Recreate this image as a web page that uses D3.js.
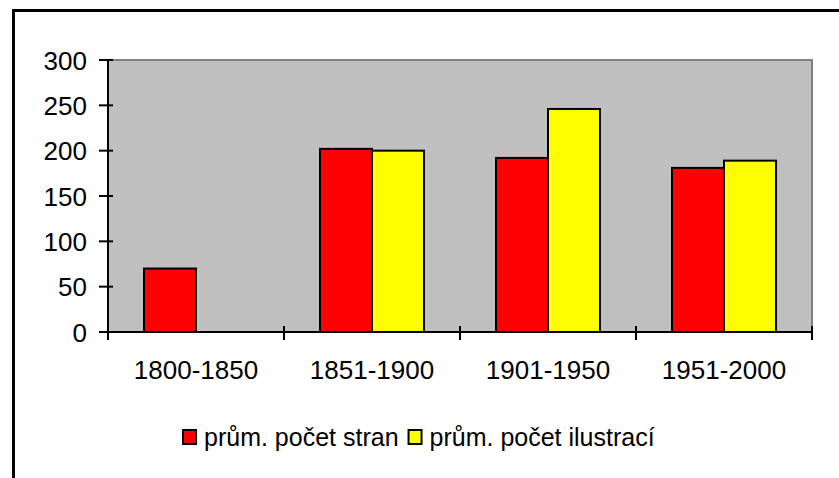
<!DOCTYPE html>
<html><head><meta charset="utf-8">
<script src="https://cdn.jsdelivr.net/npm/d3@7/dist/d3.min.js"></script>
<style>
body{margin:0;background:#fff;}
text{font-family:"Liberation Sans",Arial,sans-serif;fill:#000;}
</style></head>
<body><svg id="c" width="839" height="478"></svg>
<script>
const categories = ["1800-1850","1851-1900","1901-1950","1951-2000"];
const seriesNames = ["prům. počet stran","prům. počet ilustrací"];
const strany = [70, 202, 192, 181];
const ilustrace = [null, 200, 246, 189];
const yTicks = [0,50,100,150,200,250,300];
const colors = ["#ff0000","#ffff00"];

const svg = d3.select("#c");
const L=108, R=812, T=60, B=332;

// outer frame
svg.append("rect").attr("x",13.5).attr("y",10.5).attr("width",900).attr("height",600)
  .attr("fill","none").attr("stroke","#000").attr("stroke-width",3);

const x = d3.scaleBand().domain(categories).range([L,R]).paddingInner(0).paddingOuter(0);
const y = d3.scaleLinear().domain([0,300]).range([B,T]);
const bw = x.bandwidth();
const xs = d3.scaleBand().domain([0,1]).range([bw*36/176, bw*140/176]).padding(0);

// plot area
svg.append("rect").attr("x",L).attr("y",T).attr("width",R-L).attr("height",B-T).attr("fill","#c0c0c0");
svg.append("path").attr("d",`M${L},${T}H${R}V${B}`).attr("fill","none").attr("stroke","#808080").attr("stroke-width",2);

// bars
const series=[strany, ilustrace];
series.forEach((vals,si)=>{
  svg.append("g").selectAll("rect").data(categories.map((c,i)=>({c,v:vals[i]})).filter(d=>d.v!=null))
   .join("rect")
   .attr("x",d=>x(d.c)+xs(si))
   .attr("y",d=>y(d.v))
   .attr("width",xs.bandwidth())
   .attr("height",d=>B-y(d.v))
   .attr("fill",colors[si]).attr("stroke","#000").attr("stroke-width",2);
});

// y axis
const ya = svg.append("g").attr("transform",`translate(${L},0)`)
  .call(d3.axisLeft(y).tickValues(yTicks).tickSize(0).tickPadding(21).tickFormat(d3.format("d")));
ya.select(".domain").remove();
ya.selectAll("text").attr("font-size",26).attr("font-family","Liberation Sans, Arial, sans-serif").attr("dy","0.35em");
svg.append("g").selectAll("line").data(yTicks).join("line")
  .attr("x1",L-9).attr("x2",L+5).attr("y1",d=>y(d)).attr("y2",d=>y(d)).attr("stroke","#000").attr("stroke-width",2);
svg.append("line").attr("x1",L).attr("x2",L).attr("y1",T-1).attr("y2",B+1).attr("stroke","#000").attr("stroke-width",2);

// x axis
const xa = svg.append("g").attr("transform",`translate(0,${B})`)
  .call(d3.axisBottom(x).tickSize(0).tickPadding(29));
xa.select(".domain").remove();
xa.selectAll("text").attr("font-size",26).attr("font-family","Liberation Sans, Arial, sans-serif").attr("dy","0.71em");
const bounds = categories.map(c=>x(c)).concat([R]);
svg.append("g").selectAll("line").data(bounds).join("line")
  .attr("x1",d=>d).attr("x2",d=>d).attr("y1",B-6).attr("y2",B+8).attr("stroke","#000").attr("stroke-width",2);
svg.append("line").attr("x1",L-1).attr("x2",R+1).attr("y1",B).attr("y2",B).attr("stroke","#000").attr("stroke-width",2);

// legend
const lg = svg.append("g");
let lx = 183;
seriesNames.forEach((n,i)=>{
  lg.append("rect").attr("x",lx).attr("y",430).attr("width",13).attr("height",14)
    .attr("fill",colors[i]).attr("stroke","#000").attr("stroke-width",2);
  const t = lg.append("text").attr("x",lx+21).attr("y",446).attr("font-size",25).text(n);
  lx = lx + 21 + t.node().getComputedTextLength() + 10;
});
</script></body></html>
